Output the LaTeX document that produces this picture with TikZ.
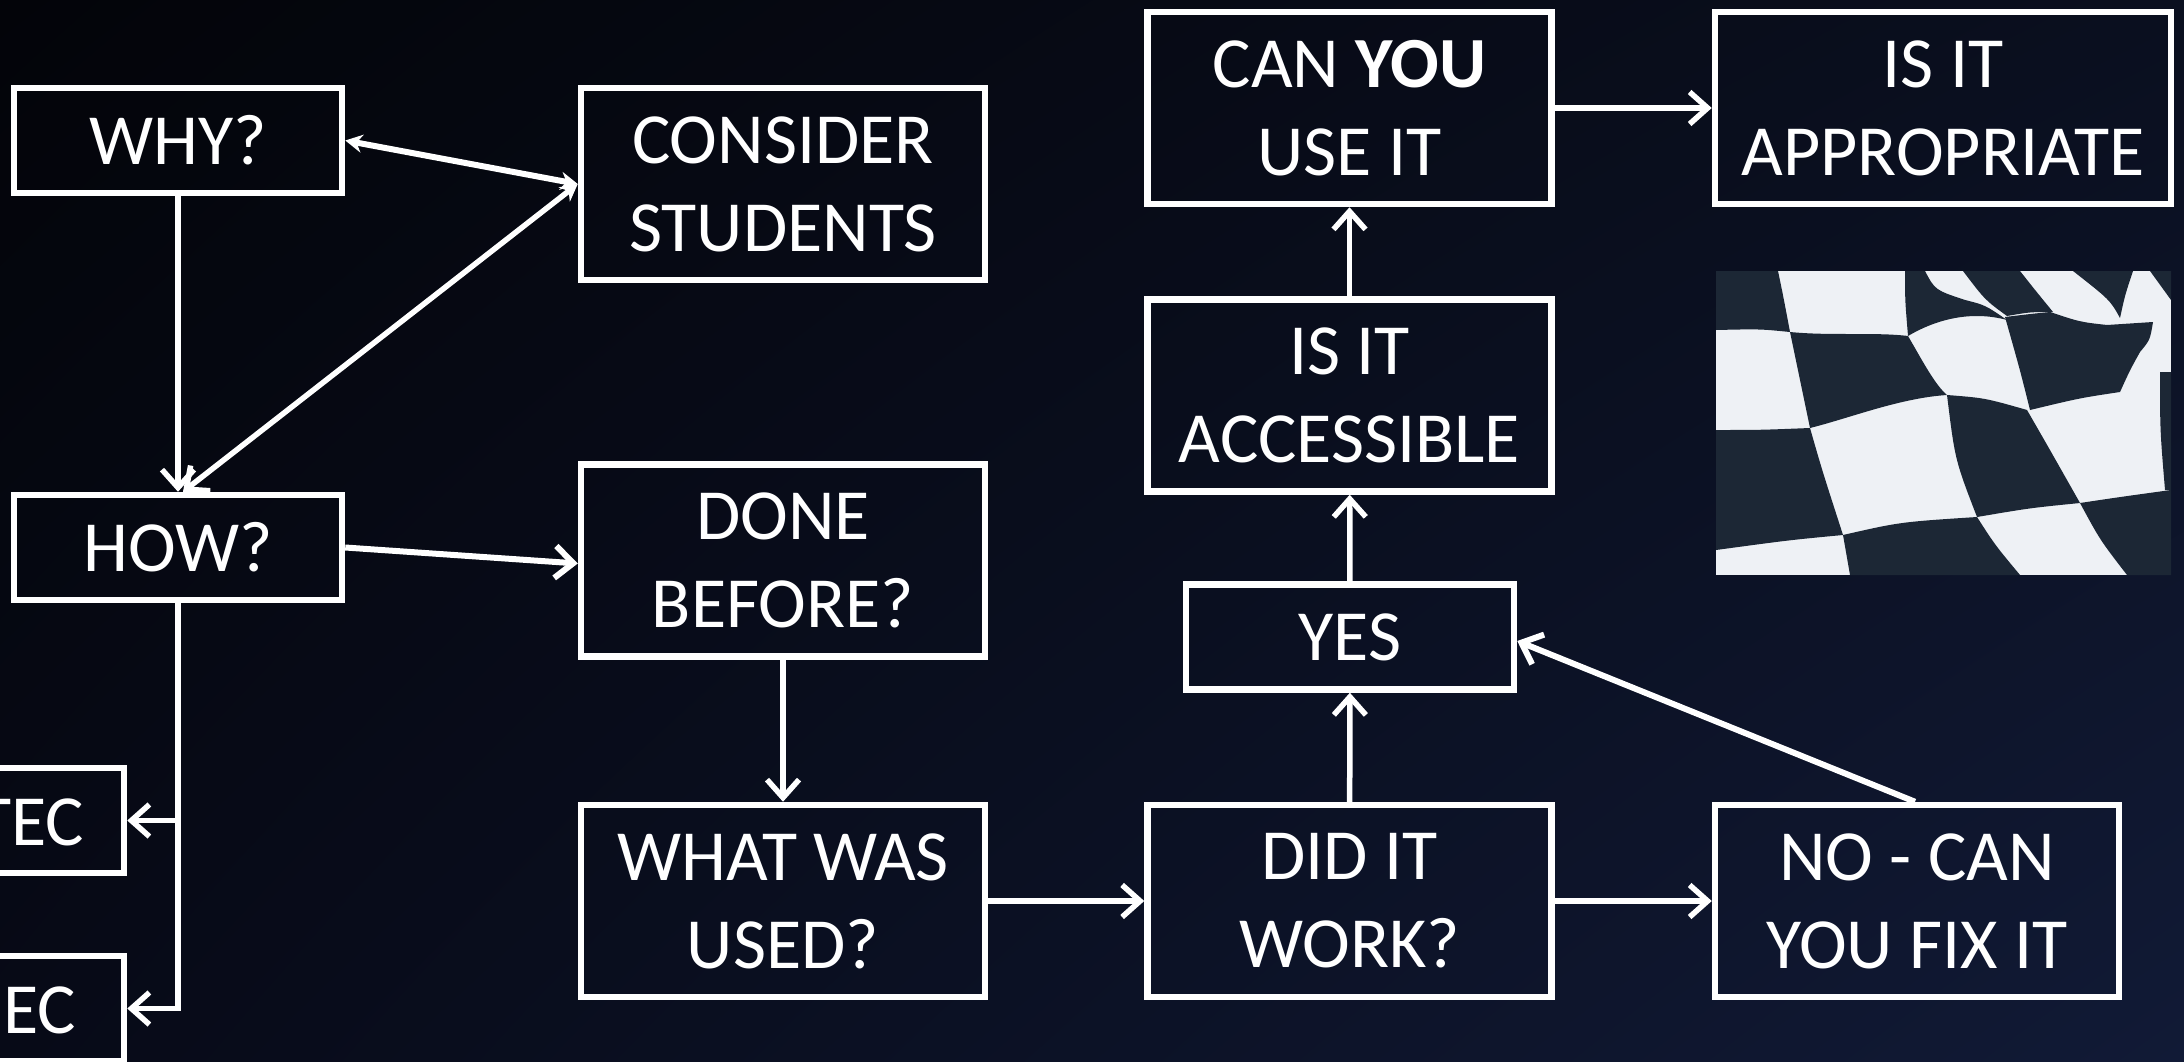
\documentclass[tikz,border=0pt]{standalone}
\usepackage{fontspec}
\setmainfont{Carlito}
\usetikzlibrary{arrows.meta,shadings}
\definecolor{bgTL}{HTML}{030409}
\definecolor{bgTR}{HTML}{0A0F1F}
\definecolor{bgBL}{HTML}{070A17}
\definecolor{bgBR}{HTML}{111A36}
\definecolor{flagdark}{HTML}{1C2735}
\definecolor{flagwhite}{HTML}{EEF1F5}
\begin{document}
\begin{tikzpicture}[x=1pt,y=-1pt,
  box/.style={draw=white, line width=6.5pt, text=white, inner sep=0pt, align=center,
    font=\fontsize{72}{88}\selectfont, minimum width=404pt, minimum height=192pt},
  smallbox/.style={box, minimum width=328pt, minimum height=105pt},
  lbl/.style={text=white, inner sep=0pt, font=\fontsize{72}{88}\selectfont},
  conn/.style={draw=white, line width=5.5pt},
  chev/.style={-{Straight Barb[length=18pt,width=32pt]}},
  stl/.tip={Stealth[length=17pt,width=18pt]},
  barb/.tip={Straight Barb[length=18pt,width=32pt]}
]
\useasboundingbox (0,0) rectangle (2184,1062);
\shade[upper left=bgTL, upper right=bgTR, lower left=bgBL, lower right=bgBR] (0,0) rectangle (2184,1062);

% flag picture
\begin{scope}
\clip (1716,271) rectangle (2171,575);
\fill[flagwhite] (1716,271) rectangle (2171,575);
\fill[flagdark] (1716,271) -- (1778,271) .. controls (1783,295) .. (1790,332) .. controls (1760,329) .. (1716,330) -- cycle;
\fill[flagdark] (1790,332) .. controls (1830,336) and (1875,332) .. (1908,336) .. controls (1922,360) and (1935,385) .. (1947,395) .. controls (1900,398) and (1850,418) .. (1810,428) -- cycle;
\fill[flagdark] (1716,430) .. controls (1760,430) .. (1810,428) .. controls (1822,470) .. (1843,535) .. controls (1790,540) .. (1716,550) -- cycle;
\fill[flagdark] (1843,535) .. controls (1900,522) .. (1977,517) .. controls (1995,545) .. (2020,575) -- (1850,575) -- cycle;
\fill[flagdark] (1947,395) .. controls (1985,398) .. (2027,410) .. controls (2050,450) .. (2080,503) .. controls (2030,508) .. (1977,517) .. controls (1955,460) .. (1947,395) -- cycle;
\fill[flagdark] (2080,503) .. controls (2120,497) .. (2171,490) -- (2171,575) -- (2127,575) .. controls (2100,540) .. (2080,503) -- cycle;
\fill[flagdark] (1905,271) -- (1925,271) .. controls (1935,290) .. (1965,300) .. controls (1985,305) .. (2007,320) .. controls (1970,310) and (1935,320) .. (1908,336) .. controls (1905,300) .. (1905,271) -- cycle;
\fill[flagdark] (1963,271) -- (2020,271) .. controls (2035,290) .. (2053,312) .. controls (2030,312) .. (2007,316) .. controls (1985,300) .. (1963,271) -- cycle;
\fill[flagdark] (2005,317) .. controls (2030,314) .. (2050,312) .. controls (2080,322) .. (2107,325) -- (2153,322) .. controls (2150,340) .. (2140,352) .. controls (2130,370) .. (2120,392) .. controls (2080,398) .. (2030,410) .. controls (2020,370) .. (2005,317) -- cycle;
\fill[flagdark] (2073,271) -- (2133,271) .. controls (2125,295) .. (2120,318) .. controls (2110,300) .. (2073,271) -- cycle;
\fill[flagdark] (2150,271) -- (2171,271) -- (2171,300) -- cycle;
\fill[flagdark] (2160,372) -- (2171,372) -- (2171,490) -- (2165,490) .. controls (2160,430) .. (2160,372) -- cycle;
\end{scope}

% boxes
\node[smallbox] (why) at (178,140.5) {WHY?};
\node[box] (cons) at (783,184) {CONSIDER\\STUDENTS};
\node[smallbox] (how) at (178,547.5) {HOW?};
\node[box] (done) at (783,560.5) {DONE\\BEFORE?};
\node[smallbox] (tec1) at (-40,820.5) {};
\node[lbl, anchor=east] (tec1t) at (84,822) {TEC};
\node[smallbox] (tec2) at (-40,1008.5) {};
\node[lbl, anchor=east] (tec2t) at (76,1010) {EC};
\node[box] (what) at (783,901) {WHAT WAS\\USED?};
\node[box] (did) at (1349.5,901) {DID IT\\WORK?};
\node[box] (no) at (1917,901) {NO - CAN\\YOU FIX IT};
\node[smallbox] (yes) at (1350,637) {YES};
\node[box] (acc) at (1349.5,395.5) {IS IT\\ACCESSIBLE};
\node[box] (can) at (1349.5,108) {CAN \textbf{YOU}\\USE IT};
\node[box, minimum width=456pt] (app) at (1943,108) {IS IT\\APPROPRIATE};

% connectors
\draw[conn, chev] (why) -- (how);
\draw[conn, line width=6pt, stl-stl] (why.east) -- (cons.west);
\draw[conn, barb-stl] ([xshift=5pt]how.north) -- (cons.west);
\draw[conn, line width=6pt, chev] (how.east) -- ([yshift=-3pt]done.west);
\draw[conn, chev] (how.south) |- (tec1.east);
\draw[conn, chev] (how.south) |- (tec2.east);
\draw[conn, chev] (done) -- (what);
\draw[conn, chev] (what) -- (did);
\draw[conn, chev] (did) -- (no);
\draw[conn, chev] (did) -- (yes);
\draw[conn, chev] (yes) -- (acc);
\draw[conn, chev] (acc) -- (can);
\draw[conn, chev] (can) -- (app);
\draw[conn, line width=6pt, chev] ([xshift=-2pt]no.north) -- ([yshift=-4pt]yes.east);
\end{tikzpicture}
\end{document}
